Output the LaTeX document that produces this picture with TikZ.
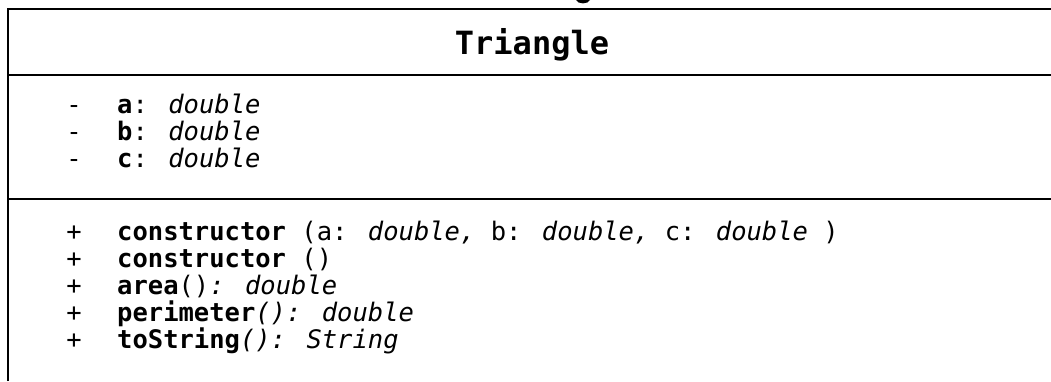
\documentclass[tikz,border=0pt]{standalone}
\usepackage{fontspec}
\setmainfont{DejaVu Sans Mono}
\begin{document}
\begin{tikzpicture}[x=1pt,y=-1pt,
  border/.style={line width=2.5pt,black},
  row/.style={anchor=base west,inner sep=0pt,font=\fontsize{25.5}{25.5}\selectfont},
  sign/.style={anchor=base,inner sep=0pt,font=\fontsize{25.5}{25.5}\selectfont},
  title/.style={anchor=base,inner sep=0pt,font=\fontsize{32}{32}\selectfont\bfseries}]
\useasboundingbox (0,0) rectangle (1051,381);
% borders
\draw[border] (8,381) -- (8,9) -- (1051,9);
\draw[border] (8,75) -- (1051,75);
\draw[border] (8,199) -- (1051,199);
% clipped glyph fragment at the top
\fill (576,0) .. controls (578,4.5) and (588,4.5) .. (590,0) -- cycle;
% title
\node[title] (name) at (532,54) {Triangle};
% attributes
\node[sign] (s1) at (74,113) {-};
\node[row]  (a1) at (117,113) {\textbf{a}: \textit{double}};
\node[sign] (s2) at (74,140) {-};
\node[row]  (a2) at (117,140) {\textbf{b}: \textit{double}};
\node[sign] (s3) at (74,167) {-};
\node[row]  (a3) at (117,167) {\textbf{c}: \textit{double}};
% methods
\node[sign] (p1) at (74,240) {+};
\node[row]  (m1) at (117,240) {\textbf{constructor} (a: \textit{double,} b: \textit{double,} c: \textit{double} )};
\node[sign] (p2) at (74,267) {+};
\node[row]  (m2) at (117,267) {\textbf{constructor} ()};
\node[sign] (p3) at (74,294) {+};
\node[row]  (m3) at (117,294) {\textbf{area}()\textit{: double}};
\node[sign] (p4) at (74,321) {+};
\node[row]  (m4) at (117,321) {\textbf{perimeter}\textit{(): double}};
\node[sign] (p5) at (74,348) {+};
\node[row]  (m5) at (117,348) {\textbf{toString}\textit{(): String}};
\end{tikzpicture}
\end{document}
